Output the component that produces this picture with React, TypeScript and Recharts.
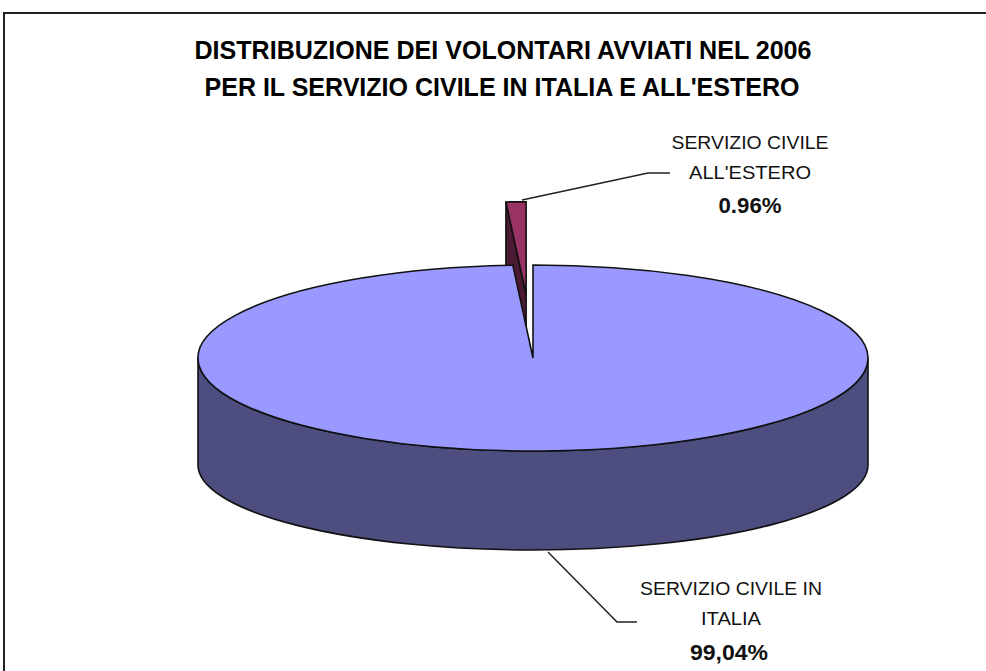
import React from "react";
import { PieChart, Pie, Cell } from "recharts";

const titleLines = ["DISTRIBUZIONE DEI VOLONTARI AVVIATI NEL 2006", "PER IL SERVIZIO CIVILE IN ITALIA E ALL'ESTERO"];
const categories = ["SERVIZIO CIVILE ALL'ESTERO", "SERVIZIO CIVILE IN ITALIA"];
const values = [0.96, 99.04];
const valueLabels = ["0.96%", "99,04%"];
const topColors = ["#993366", "#9999ff"];
const wallColors = ["#4d1a33", "#4d4d80"];
const data = categories.map((name, i) => ({ name, value: values[i] }));

const W = 986, H = 671, CX = 533, CY = 358, RX = 335, RY = 93;
const TILT = RY / RX;
const DEPTH = 98;
const EXPLODE = 0.68;
const FONT = "'Liberation Sans', Arial, sans-serif";
const RAD = Math.PI / 180;

const pt = (cx: number, cy: number, r: number, a: number): [number, number] => [
  cx + r * Math.cos(a * RAD),
  cy - r * TILT * Math.sin(a * RAD),
];

const Slice3D = (props: any) => {
  const { cx, cy, outerRadius: r, startAngle, endAngle, index } = props;
  const sweep = Math.abs(startAngle - endAngle);
  const large = sweep > 180 ? 1 : 0;
  const top = topColors[index];
  const wall = wallColors[index];
  let ox = cx, oy = cy;
  if (sweep < 180) {
    const mid = (startAngle + endAngle) / 2;
    ox = cx + EXPLODE * r * Math.cos(mid * RAD);
    oy = cy - EXPLODE * r * TILT * Math.sin(mid * RAD);
  }
  const a = pt(ox, oy, r, startAngle);
  const b = pt(ox, oy, r, endAngle);
  const topPath = `M${ox},${oy} L${a[0]},${a[1]} A${r},${r * TILT} 0 ${large} 1 ${b[0]},${b[1]} Z`;
  if (sweep > 180) {
    const wallPath = `M${ox - r},${oy} A${r},${r * TILT} 0 0 0 ${ox + r},${oy} L${ox + r},${oy + 107} A${r},85 0 0 1 ${ox - r},${oy + 107} Z`;
    return (
      <g>
        <path d={wallPath} fill={wall} stroke="#111" strokeWidth={1.6} />
        <path d={topPath} fill={top} stroke="#111" strokeWidth={1.6} />
      </g>
    );
  }
  const left = a[0] < b[0] ? a : b;
  const wallPath = `M${left[0]},${left[1]} L${ox},${oy} L${ox},${oy + DEPTH} L${left[0]},${left[1] + DEPTH} Z`;
  return (
    <g>
      <path d={wallPath} fill={wall} stroke="#111" strokeWidth={1.6} />
      <path d={topPath} fill={top} stroke="#111" strokeWidth={1.6} />
    </g>
  );
};

const labelLayouts = [
  { x: 750, ys: [149, 179, 213], lens: [157, 122], leader: "522,200 648,173 670,173" },
  { x: 731, ys: [595, 625, 660], lens: [182, 60], leader: "548,552 617,622 637,622" },
];
const labelSplits = [
  ["SERVIZIO CIVILE", "ALL'ESTERO"],
  ["SERVIZIO CIVILE  IN", "ITALIA"],
];

const renderLabel = (props: any) => {
  const i = props.index;
  const l = labelLayouts[i];
  const [a, b] = labelSplits[i];
  return (
    <g>
      <polyline points={l.leader} fill="none" stroke="#222" strokeWidth={1.5} />
      <text x={l.x} y={l.ys[0]} textAnchor="middle" fontFamily={FONT} fontSize={19} fill="#111" textLength={l.lens[0]} lengthAdjust="spacingAndGlyphs">{a}</text>
      <text x={l.x} y={l.ys[1]} textAnchor="middle" fontFamily={FONT} fontSize={19} fill="#111" textLength={l.lens[1]} lengthAdjust="spacingAndGlyphs">{b}</text>
      <text x={l.x - (i === 1 ? 2 : 0)} y={l.ys[2]} textAnchor="middle" fontFamily={FONT} fontSize={22.5} fontWeight="bold" fill="#111" textLength={i === 1 ? 78 : 63} lengthAdjust="spacingAndGlyphs">{valueLabels[i]}</text>
    </g>
  );
};

export default function App() {
  return (
    <div style={{ position: "absolute", left: 0, top: 0, width: W, height: H, background: "#fff", overflow: "hidden" }}>
      <PieChart width={W} height={H} margin={{ top: 0, right: 0, bottom: 0, left: 0 }}>
        <rect x={4} y={13} width={W + 20} height={H + 20} fill="#fff" stroke="#222" strokeWidth={2} />
        <text x={503} y={59} textAnchor="middle" fontFamily={FONT} fontSize={25} fontWeight="bold" fill="#000" textLength={617} lengthAdjust="spacingAndGlyphs">{titleLines[0]}</text>
        <text x={502} y={96} textAnchor="middle" fontFamily={FONT} fontSize={25} fontWeight="bold" fill="#000" textLength={595} lengthAdjust="spacingAndGlyphs">{titleLines[1]}</text>
        <Pie
          data={data}
          dataKey="value"
          nameKey="name"
          cx={CX}
          cy={CY}
          innerRadius={0}
          outerRadius={RX}
          startAngle={90 + (values[0] / (values[0] + values[1])) * 360}
          endAngle={90 + (values[0] / (values[0] + values[1])) * 360 - 360}
          paddingAngle={0}
          isAnimationActive={false}
          shape={Slice3D}
          label={renderLabel}
          labelLine={false}
          legendType="none"
        >
          {data.map((d, i) => (
            <Cell key={d.name} fill={topColors[i]} />
          ))}
        </Pie>
      </PieChart>
    </div>
  );
}
